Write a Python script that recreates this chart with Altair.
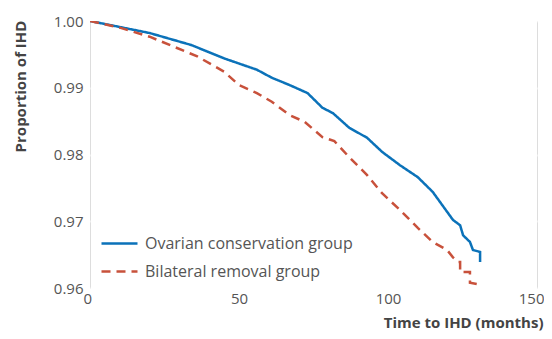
import altair as alt
import pandas as pd

groups = ["Ovarian conservation group", "Bilateral removal group"]

cons_t = [0, 10, 20, 34, 45, 56, 61, 67, 73, 78, 81.5, 87, 93, 98, 104, 110, 115, 121.8, 124.2, 125.2, 127.5, 128.5, 130.9, 130.9]
cons_v = [1.0, 0.9991, 0.9982, 0.9964, 0.9944, 0.9927, 0.9915, 0.9904, 0.9892, 0.9870, 0.9862, 0.9840, 0.9825, 0.9804, 0.9784, 0.9766, 0.9744, 0.9702, 0.9694, 0.9679, 0.9669, 0.9657, 0.9654, 0.9639]

rem_t = [0, 10, 20, 36, 45, 50, 56, 61, 67, 72, 78, 82, 87, 93, 98, 104, 110, 115, 119.8, 121.8, 123.5, 124.2, 124.2, 127.5, 127.5, 130.9]
rem_v = [1.0, 0.9990, 0.99765, 0.9947, 0.9924, 0.9904, 0.9892, 0.9879, 0.9859, 0.9849, 0.9826, 0.9820, 0.9796, 0.9769, 0.9742, 0.9717, 0.9690, 0.9669, 0.9657, 0.9646, 0.9639, 0.9639, 0.9624, 0.9624, 0.9608, 0.9605]

x_ticks = [0, 50, 100, 150]
y_ticks = [0.96, 0.97, 0.98, 0.99, 1.00]

rows = []
for i, (t, v) in enumerate(zip(cons_t, cons_v)):
    rows.append({"t": t, "v": v, "group": groups[0], "order": i})
for i, (t, v) in enumerate(zip(rem_t, rem_v)):
    rows.append({"t": t, "v": v, "group": groups[1], "order": i})
df = pd.DataFrame(rows)

font = "Open Sans"

legend_kw = dict(title=None, orient="none", legendX=10, legendY=203,
                 symbolType="stroke", symbolSize=1296, symbolStrokeWidth=2.5,
                 labelFontSize=16, labelFont=font, labelColor="#555555", labelLimit=0,
                 rowPadding=-17, padding=0, labelOffset=6)

chart = alt.Chart(df).mark_line(strokeWidth=2.5, clip=True).encode(
    x=alt.X("t:Q", scale=alt.Scale(domain=[0, 150], nice=False),
            axis=alt.Axis(values=x_ticks, title="Time to IHD (months)", grid=False,
                          domain=False, ticks=False, labelPadding=3,
                          labelFlush=True, labelFlushOffset=7,
                          labelFontSize=15, labelColor="#555555", labelFont=font,
                          titleFont=font, titleFontSize=15, titleFontWeight="bold",
                          titleColor="#444444", titleAlign="right", titleAnchor="end",
                          titleX=453, titleY=34, titleBaseline="middle")),
    y=alt.Y("v:Q", scale=alt.Scale(domain=[0.96, 1.0], nice=False, zero=False),
            axis=alt.Axis(values=y_ticks, format=".2f", title="Proportion of IHD",
                          grid=True, gridColor="white", gridWidth=2,
                          domain=False, ticks=False, labelPadding=7,
                          labelFontSize=15, labelColor="#555555", labelFont=font,
                          titleFont=font, titleFontSize=15, titleFontWeight="bold",
                          titleColor="#444444", titleAngle=-90, titleAlign="center",
                          titleX=-70, titleY=65, titleBaseline="middle")),
    color=alt.Color("group:N", sort=groups,
                    scale=alt.Scale(domain=groups, range=["#0B72B9", "#C8513B"]),
                    legend=alt.Legend(**legend_kw)),
    strokeDash=alt.StrokeDash("group:N", sort=groups,
                              scale=alt.Scale(domain=groups, range=[[1, 0], [9, 6]]),
                              legend=alt.Legend(**legend_kw)),
    detail="group:N",
    order="order:Q",
).properties(
    width=447, height=267,
    autosize=alt.AutoSizeParams(type="none"),
    padding={"left": 82, "top": 13, "right": 7, "bottom": 43},
).configure_view(fill="#EBEBEF", stroke=None).configure(background="white")

chart.save("out.html", embed_options={"renderer": "svg", "actions": False})
